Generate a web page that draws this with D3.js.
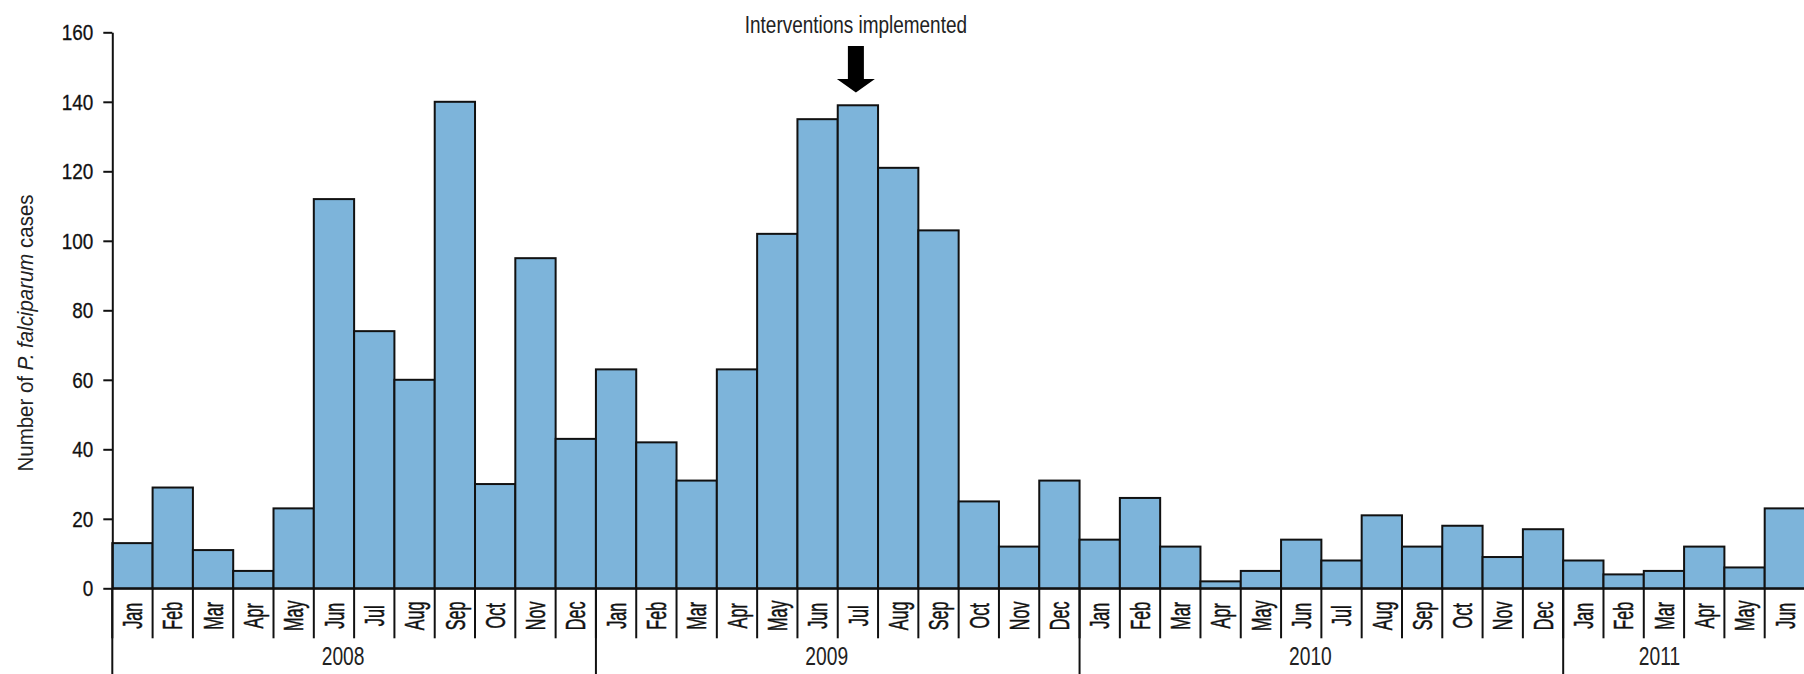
<!DOCTYPE html>
<html>
<head>
<meta charset="utf-8">
<script src="https://cdn.jsdelivr.net/npm/d3@7"></script>
<style>
body { margin: 0; background: #fff; }
svg { display: block; font-family: "Liberation Sans", Arial, sans-serif; }
</style>
</head>
<body>
<div class="canva"></div>
<script>
// monthly P. falciparum cases
const monthNames = ['Jan','Feb','Mar','Apr','May','Jun','Jul','Aug','Sep','Oct','Nov','Dec'];
const years = ['2008','2009','2010','2011'];
const cases2008 = [13, 29, 11, 5, 23, 112, 74, 60, 140, 30, 95, 43];
const cases2009 = [63, 42, 31, 63, 102, 135, 139, 121, 103, 25, 12, 31];
const cases2010 = [14, 26, 12, 2, 5, 14, 8, 21, 12, 18, 9, 17];
const cases2011 = [8, 4, 5, 12, 6, 23];
const yTicks = [0, 20, 40, 60, 80, 100, 120, 140, 160];
const annotationText = 'Interventions implemented';
const annotationMonth = '2009-Jul';

var width = 1804;
var height = 674;

const casesByYear = [cases2008, cases2009, cases2010, cases2011];
const data = [];
years.forEach((yr, i) => {
  casesByYear[i].forEach((v, m) => {
    data.push({key: yr + '-' + monthNames[m], year: yr, month: monthNames[m], value: v});
  });
});

const canvas = d3.select('.canva');
const svg = canvas.append('svg')
            .attr('width', width)
            .attr('height', height);

const x = d3.scaleBand()
            .domain(data.map(d => d.key))
            .range([112.3, 1805])
            .padding(0);
const y = d3.scaleLinear()
            .domain([0, 160])
            .range([588.3, 32.3]);
const bw = x.bandwidth();
const y0 = y(0);

// bars
svg.append('g').selectAll('rect')
   .data(data)
   .enter().append('rect')
   .attr('x', d => x(d.key))
   .attr('y', d => y(d.value))
   .attr('width', bw)
   .attr('height', d => y0 - y(d.value))
   .attr('fill', '#7db4da')
   .attr('stroke', '#111')
   .attr('stroke-width', 2);

// y axis
const yAxis = svg.append('g')
   .attr('transform', 'translate(112.3,0)')
   .call(d3.axisLeft(y).tickValues(yTicks).tickSize(9).tickSizeOuter(0));
yAxis.selectAll('path, line').attr('stroke', '#111').attr('stroke-width', 2);
yAxis.selectAll('text')
   .attr('font-size', 22)
   .attr('fill', '#111')
   .attr('stroke', '#111')
   .attr('stroke-width', 0.3)
   .attr('x', -19 / 0.86)
   .attr('dy', '0.33em')
   .attr('transform', 'scale(0.86,1)');

// x axis: baseline and month labels
const xAxis = svg.append('g')
   .attr('transform', 'translate(0,' + y0 + ')')
   .call(d3.axisBottom(x).tickSize(0).tickSizeOuter(0).tickFormat(k => k.slice(5)));
xAxis.select('.domain').attr('stroke', '#111').attr('stroke-width', 2);
xAxis.selectAll('text')
   .attr('font-size', 27)
   .attr('fill', '#111')
   .attr('stroke', '#111')
   .attr('stroke-width', 0.5)
   .attr('x', 0)
   .attr('y', 0)
   .attr('dy', '0.36em')
   .attr('text-anchor', 'middle')
   .attr('transform', 'translate(0,27.5) rotate(-90) scale(0.6,1)');

// month separators
svg.append('g').selectAll('line')
   .data(data)
   .enter().append('line')
   .attr('x1', d => x(d.key)).attr('x2', d => x(d.key))
   .attr('y1', y0).attr('y2', y0 + 50)
   .attr('stroke', '#111').attr('stroke-width', 2);

// year separators and labels
const yearBlocks = years.map(yr => {
  const ks = data.filter(d => d.year === yr).map(d => d.key);
  return {year: yr, start: x(ks[0]), end: Math.min(x(ks[ks.length - 1]) + bw, width)};
});
svg.append('g').selectAll('line')
   .data(yearBlocks)
   .enter().append('line')
   .attr('x1', d => d.start).attr('x2', d => d.start)
   .attr('y1', y0).attr('y2', height)
   .attr('stroke', '#111').attr('stroke-width', 2);
svg.append('g').selectAll('text')
   .data(yearBlocks)
   .enter().append('text')
   .attr('transform', d => {
     const full = (d.end - d.start) > bw * 11;
     const cx = full ? (d.start + d.end) / 2 - 11 : d.start + (d.end - d.start) * 0.4;
     return 'translate(' + cx + ',665) scale(0.74,1)';
   })
   .attr('text-anchor', 'middle')
   .attr('font-size', 26)
   .attr('fill', '#222')
   .text(d => d.year);

// y axis title
const title = svg.append('text')
   .attr('transform', 'translate(33,333) rotate(-90) scale(0.93,1)')
   .attr('text-anchor', 'middle')
   .attr('font-size', 22)
   .attr('fill', '#222');
title.append('tspan').text('Number of ');
title.append('tspan').attr('font-style', 'italic').text('P. falciparum');
title.append('tspan').text(' cases');

// annotation arrow
const ax = x(annotationMonth) + bw / 2 - 2;
svg.append('text')
   .attr('transform', 'translate(' + ax + ',33) scale(0.79,1)')
   .attr('text-anchor', 'middle')
   .attr('font-size', 24)
   .attr('fill', '#222')
   .text(annotationText);
svg.append('path')
   .attr('d', d3.line()([[ax - 8, 46], [ax + 8, 46], [ax + 8, 79], [ax + 19, 79],
                         [ax, 92.5], [ax - 19, 79], [ax - 8, 79]]) + 'Z')
   .attr('fill', '#000');
</script>
</body>
</html>
